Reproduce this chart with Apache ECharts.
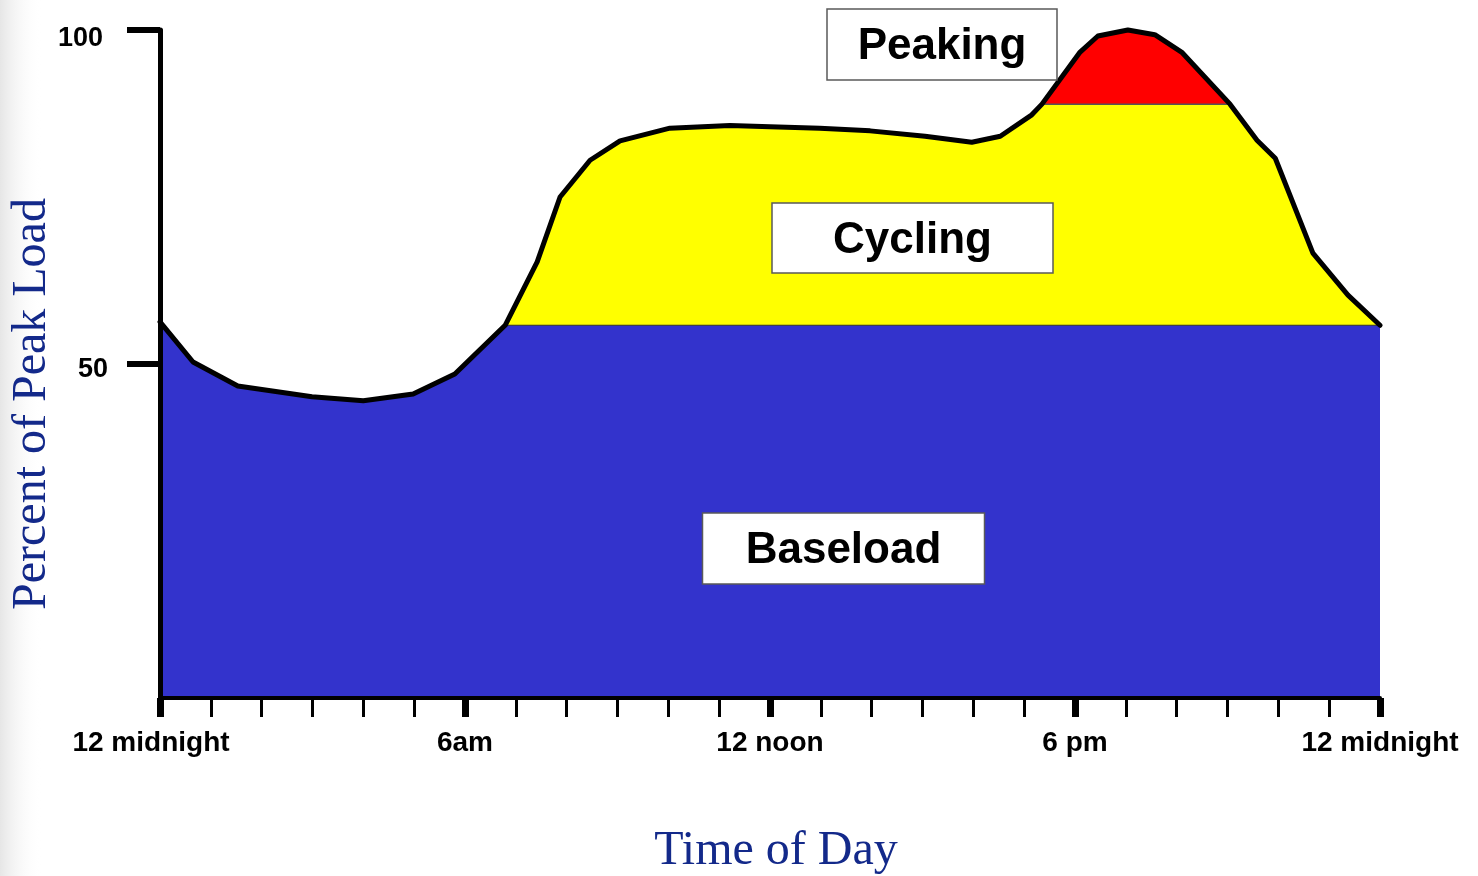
<!DOCTYPE html>
<html>
<head>
<meta charset="utf-8">
<script src="https://cdn.jsdelivr.net/npm/echarts@6/dist/echarts.min.js"></script>
<style>
html,body{margin:0;padding:0;background:#fff;}
#chart{width:1478px;height:876px;}
</style>
</head>
<body>
<div id="chart"></div>
<script>
// ---- data ----
// load curve vertices: hour of day and percent of peak load
const loadHours = [0, 0.65, 1.53, 2.99, 4.0, 4.98, 5.8, 6.79, 7.42, 7.87, 8.46, 9.05, 10.03, 11.21, 12.0, 12.98, 13.97, 15.05, 15.97, 16.53, 17.15, 17.35, 18.10, 18.45, 19.04, 19.57, 20.11, 21.05, 21.58, 21.94, 22.68, 23.37, 24];
const loadPct   = [56.3, 50.3, 46.7, 45.1, 44.5, 45.5, 48.5, 55.8, 65.3, 75.0, 80.5, 83.4, 85.3, 85.7, 85.5, 85.3, 84.9, 84.1, 83.2, 84.1, 87.3, 88.9, 96.7, 99.1, 100.0, 99.3, 96.6, 88.9, 83.5, 80.8, 66.6, 60.3, 55.8];
const baseLevel = 55.8;   // top of the baseload block
const peakLevel = 88.9;   // top of the cycling block
const tickHours = [0, 6, 12, 18, 24];
const tickLabels = ['12 midnight', '6am', '12 noon', '6 pm', '12 midnight'];
const yTickValues = [50, 100];
const blockNames = ['Peaking', 'Cycling', 'Baseload'];

// ---- series built from the read values ----
const loadPoints = loadHours.map((h, i) => [h, loadPct[i]]);
const baseEnd = loadHours.find((h, i) => i > 0 && loadPct[i] >= baseLevel);
const baseloadData = loadPoints.filter(p => p[0] <= baseEnd).concat([[24, baseLevel]]);
const cyclingData = loadPoints.filter(p => p[0] >= baseEnd).map(p => [p[0], Math.min(p[1], peakLevel)]);
const peakingData = loadPoints.filter(p => p[1] >= peakLevel && p[0] > baseEnd);

const chart = echarts.init(document.getElementById('chart'), null, {renderer: 'canvas'});
const xLabelFont = {fontFamily: '"Liberation Sans", Arial, sans-serif', fontWeight: 'bold', fontSize: 28, color: '#000'};
const yLabelFont = {fontFamily: '"Liberation Sans", Arial, sans-serif', fontWeight: 'bold', fontSize: 27, color: '#000'};

function box(name, cx, cy, w, h) {
  return [
    {type: 'rect', z: 100, shape: {x: cx - w / 2, y: cy - h / 2, width: w, height: h},
     style: {fill: '#fff', stroke: '#5a5a5a', lineWidth: 1.5}},
    {type: 'text', z: 101, style: {text: name, x: cx, y: cy + 2.5, align: 'center', verticalAlign: 'middle',
     font: 'bold 44px "Liberation Sans", Arial, sans-serif', fill: '#000'}}
  ];
}

const option = {
  animation: false,
  backgroundColor: '#fff',
  grid: {left: 160, right: 98, top: 30, bottom: 178, containLabel: false, outerBoundsMode: 'none'},
  xAxis: {
    type: 'value', min: 0, max: 24, interval: 6, z: 10,
    axisLine: {show: true, onZero: false, lineStyle: {color: '#000', width: 4}},
    axisTick: {show: true, length: 19, lineStyle: {color: '#000', width: 7}},
    minorTick: {show: true, splitNumber: 6, length: 19, lineStyle: {color: '#000', width: 3}},
    splitLine: {show: false},
    axisLabel: Object.assign({}, xLabelFont, {
      margin: 31,
      showMinLabel: true, showMaxLabel: true,
      formatter: v => {
        const i = tickHours.indexOf(v);
        if (i < 0) return '';
        return i === 0 ? '{first|' + tickLabels[i] + '}' : tickLabels[i];
      },
      rich: {first: Object.assign({}, xLabelFont, {padding: [0, 18, 0, 0]})}
    })
  },
  yAxis: {
    type: 'value', min: 0, max: 100, interval: 50, z: 10,
    axisLine: {show: true, lineStyle: {color: '#000', width: 5}},
    axisTick: {show: true, customValues: yTickValues, length: 33, lineStyle: {color: '#000', width: 6}},
    splitLine: {show: false},
    axisLabel: Object.assign({}, yLabelFont, {customValues: yTickValues, margin: 52,
      formatter: v => (v === 100 ? '{top|' : '{n|') + v + '}',
      rich: {
        n: Object.assign({}, yLabelFont, {padding: [12, 0, 0, 0]}),
        top: Object.assign({}, yLabelFont, {padding: [18, 5, 0, 0]})
      }})
  },
  series: [
    {name: blockNames[0], type: 'line', data: peakingData, showSymbol: false, clip: false,
     lineStyle: {width: 0}, areaStyle: {color: '#ff0000', opacity: 1}},
    {name: blockNames[1], type: 'line', data: cyclingData, showSymbol: false, clip: false,
     lineStyle: {width: 1.5, color: '#555'}, areaStyle: {color: '#ffff00', opacity: 1}},
    {name: blockNames[2], type: 'line', data: baseloadData, showSymbol: false, clip: false,
     lineStyle: {width: 1.2, color: '#333'}, areaStyle: {color: '#3333cc', opacity: 1}},
    {name: 'Load', type: 'line', data: loadPoints, showSymbol: false, clip: false,
     lineStyle: {width: 5, color: '#000', join: 'round', cap: 'round'}}
  ],
  graphic: [
    {type: 'rect', z: -10, shape: {x: 0, y: 0, width: 42, height: 876},
     style: {fill: new echarts.graphic.LinearGradient(0, 0, 1, 0, [
       {offset: 0, color: '#e6e6e6'}, {offset: 1, color: 'rgba(255,255,255,0)'}])}},
    {type: 'text', z: 50, x: 32, y: 404, rotation: Math.PI / 2,
     style: {text: 'Percent of Peak Load', x: 0, y: 0, align: 'center', verticalAlign: 'middle',
       font: '48px "Liberation Serif", "Times New Roman", serif', fill: '#13298a'}},
    {type: 'text', z: 50,
     style: {text: 'Time of Day', x: 776, y: 851, align: 'center', verticalAlign: 'middle',
       font: '48px "Liberation Serif", "Times New Roman", serif', fill: '#13298a'}}
  ].concat(box(blockNames[0], 942, 44.5, 230, 71))
   .concat(box(blockNames[1], 912.5, 238, 281, 70))
   .concat(box(blockNames[2], 843.5, 548.5, 282, 71))
};
chart.setOption(option);
</script>
</body>
</html>
